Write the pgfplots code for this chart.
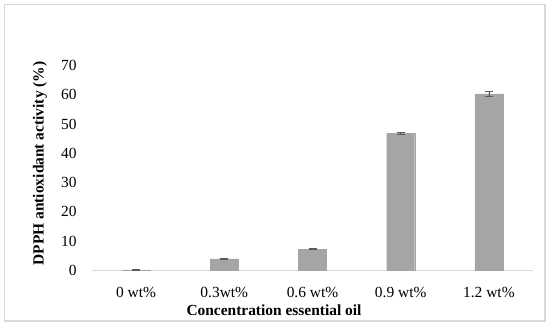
\documentclass[border=0pt]{standalone}
\usepackage{pgfplots}
\pgfplotsset{compat=1.18}
\usepackage{fontspec}
\setmainfont{Liberation Serif}
\definecolor{barfill}{HTML}{A5A5A5}
\definecolor{axisgray}{HTML}{D9D9D9}
\definecolor{errgray}{HTML}{595959}
\begin{document}
\begin{tikzpicture}
\useasboundingbox (0,0) rectangle (550bp,327bp);
\draw[axisgray, line width=1.2bp] (4.3bp,6bp) rectangle (545bp,322.7bp);
\begin{axis}[
  at={(92bp,56.5bp)}, anchor=south west,
  scale only axis, width=441bp, height=205bp,
  xmin=-0.5, xmax=4.5, ymin=0, ymax=70,
  ytick={0,10,...,70},
  xtick={0,1,2,3,4},
  xticklabels={0 wt\%, 0.3wt\%, 0.6 wt\%, 0.9 wt\%, 1.2 wt\%},
  axis x line=bottom, axis y line=left,
  x axis line style={draw=axisgray, line width=0.8bp, -},
  y axis line style={draw=none},
  tick style={draw=none},
  major tick length=0pt,
  ticklabel style={font=\fontsize{15.5}{18}\selectfont},
  /pgf/number format/assume math mode=true,
  yticklabel style={xshift=-12bp},
  xticklabel style={yshift=-13bp},
  xlabel={\textbf{Concentration essential oil}},
  ylabel={\textbf{DPPH antioxidant activity (\%)}},
  label style={font=\fontsize{15.5}{18}\selectfont},
  xlabel style={at={(axis description cs:0.5,0)}, anchor=center, xshift=-38.5bp, yshift=-40bp},
  ylabel style={at={(axis description cs:0,0.5)}, anchor=center, xshift=4.5bp, yshift=52bp},
]
\addplot[ybar, bar width=28bp, fill=barfill, draw=barfill,
  error bars/.cd, y dir=both, y explicit,
  error bar style={errgray, line width=0.8bp},
  error mark options={rotate=90, mark size=4bp, errgray, line width=0.8bp}]
  coordinates {
  (0,0.2) +- (0,0.1)
  (1,4.0) +- (0,0.2)
  (2,7.3) +- (0,0.2)
  (3,46.9) +- (0,0.3)
  (4,60.3) +- (0,1.0)
  };
\end{axis}
\end{tikzpicture}
\end{document}
